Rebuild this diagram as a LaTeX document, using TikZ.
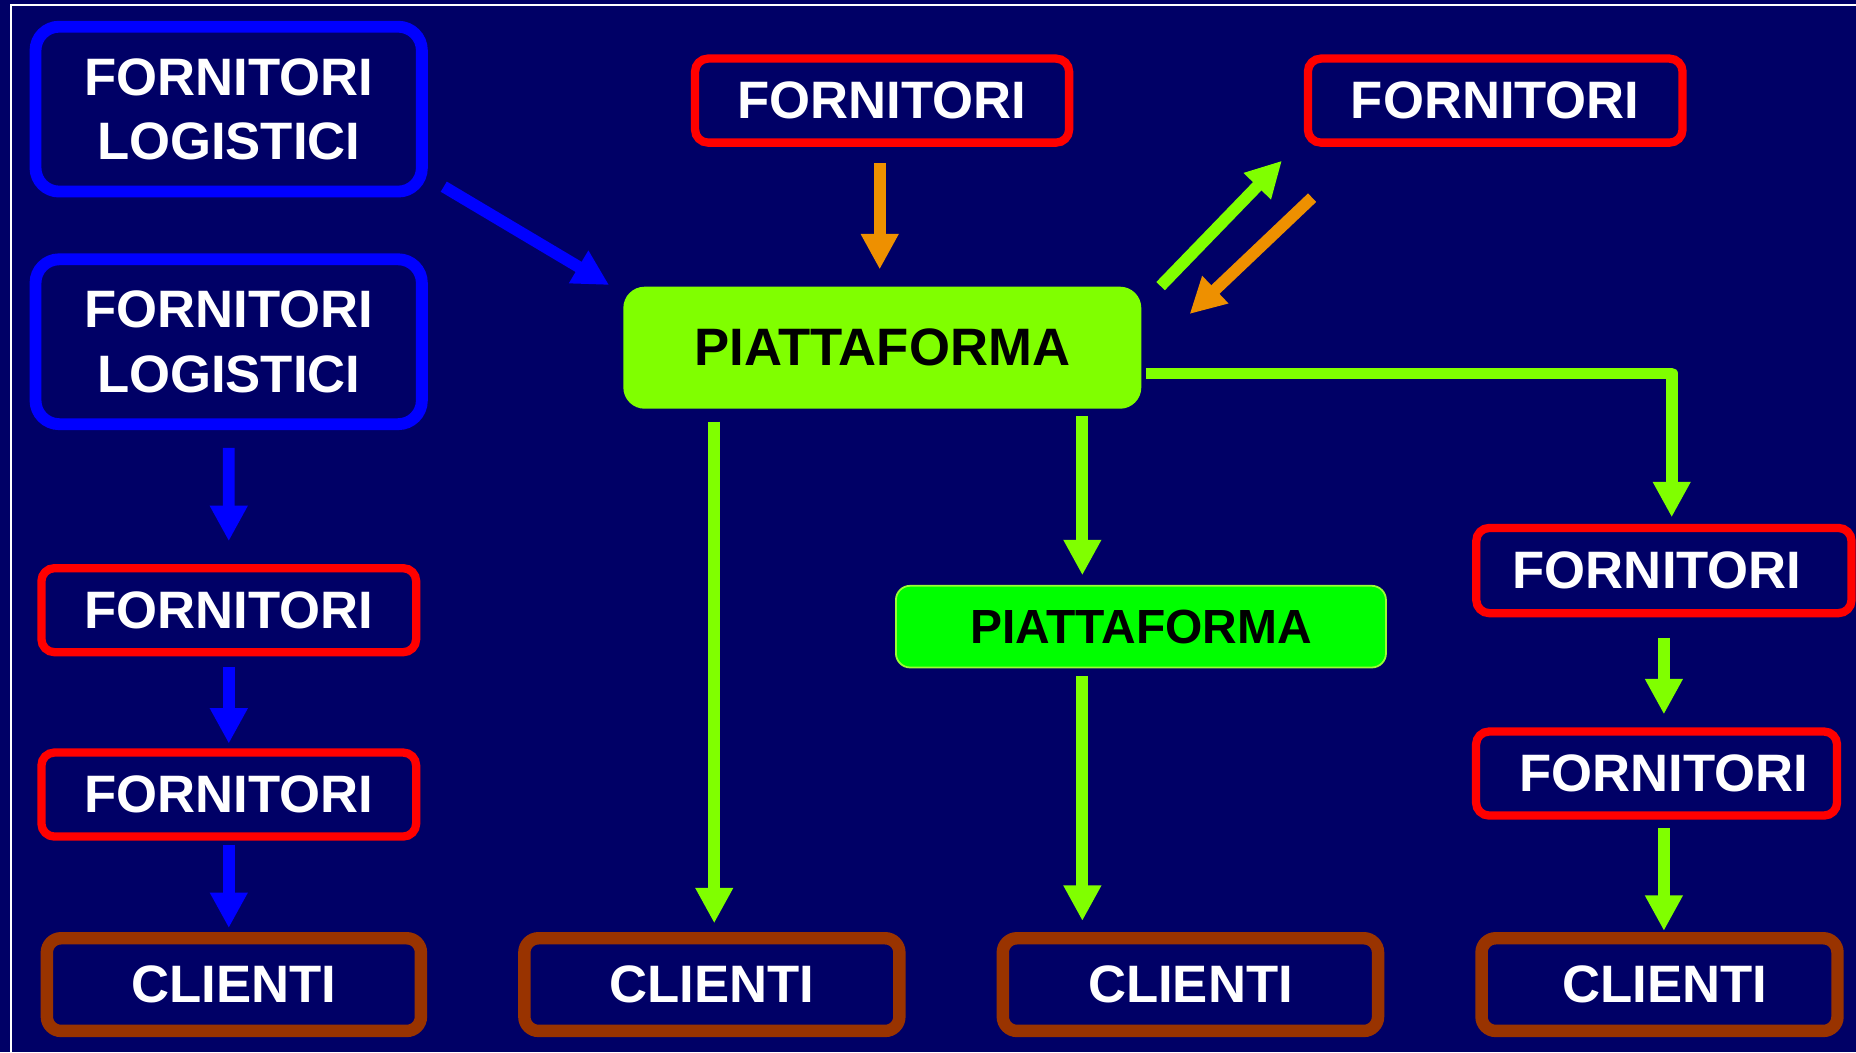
\documentclass[tikz,border=0pt]{standalone}
\usepackage{fontspec}
\setmainfont{Liberation Sans}
\usetikzlibrary{arrows.meta,calc}
\definecolor{bgnavy}{HTML}{000066}
\definecolor{pblue}{HTML}{0000FF}
\definecolor{pred}{HTML}{FF0000}
\definecolor{pbrown}{HTML}{993300}
\definecolor{chart}{HTML}{80FF00}
\definecolor{pgreen}{HTML}{00FF00}
\definecolor{porange}{HTML}{EE9000}
\definecolor{pborder}{HTML}{99FF33}
\begin{document}
\begin{tikzpicture}[x=1pt,y=-1pt,
  box/.style={rectangle, inner sep=0pt, outer sep=0pt, text=white,
    font={\bfseries\fontsize{44.5}{54.3}\selectfont}},
  bluebox/.style={box, align=center, draw=pblue, line width=10pt, rounded corners=20pt,
    minimum width=326.4pt, minimum height=139.3pt},
  redbox/.style={box, draw=pred, line width=7pt, rounded corners=11pt, minimum height=71pt},
  clibox/.style={box, draw=pbrown, line width=10.5pt, rounded corners=12pt, minimum height=78.3pt},
  bigplat/.style={box, text=black, fill=chart, rounded corners=18pt,
    minimum width=437.6pt, minimum height=103.1pt},
  smallplat/.style={box, text=black, fill=pgreen, draw=pborder, line width=1.5pt,
    rounded corners=12pt, minimum width=414pt, minimum height=69pt,
    font={\bfseries\fontsize{40.5}{48}\selectfont}},
  arr/.style={line width=10pt, -{Triangle[length=30pt,width=30pt]}},
  barrow/.style={arr, draw=pblue},
  garrow/.style={arr, draw=chart},
  oarrow/.style={arr, draw=porange}
]
\useasboundingbox (0,0) rectangle (1568,889);
\fill[bgnavy] (0,0) rectangle (1568,889);
\draw[white, line width=1.5pt] (9,889) -- (9,4.2) -- (1568,4.2);

% nodes
\node[bluebox] (FL1) at (193.2,92.2) {FORNITORI\\LOGISTICI};
\node[bluebox] (FL2) at (193.2,288.7) {FORNITORI\\LOGISTICI};
\node[redbox, minimum width=316pt] (Ftm) at (745.2,85) {FORNITORI};
\node[redbox, minimum width=316.5pt] (Ftr) at (1263.2,85) {FORNITORI};
\node[redbox, minimum width=316.6pt] (FA) at (193.3,515.5) {FORNITORI};
\node[redbox, minimum width=316.6pt] (FB) at (193.3,671.25) {FORNITORI};
\node[redbox, minimum width=317pt, minimum height=72pt] (R1) at (1405.7,482) {\hspace*{-11.4pt}FORNITORI};
\node[redbox, minimum width=305pt] (R2) at (1399.5,653.5) {FORNITORI\hspace*{-12pt}};
\node[clibox, minimum width=316pt] (C1) at (197.6,831.8) {CLIENTI};
\node[clibox, minimum width=316.8pt] (C2) at (601.4,831.8) {CLIENTI};
\node[clibox, minimum width=317pt] (C3) at (1005.7,831.8) {CLIENTI};
\node[clibox, minimum width=300.7pt] (C4) at (1402,831.8) {CLIENTI\hspace*{-9pt}};
\node[bigplat] (P) at (745.4,293.75) {PIATTAFORMA};
\node[smallplat] (Ps) at (963.9,529.4) {PIATTAFORMA};

% free-end coordinates
\coordinate (bd1) at (374.9,157.7);
\coordinate (bd2) at (514.6,240.8);
\coordinate (gd1) at (980.5,241.7);
\coordinate (gd2) at (1083,135.8);
\coordinate (od1) at (1108.5,167);
\coordinate (od2) at (1005,265.3);
\coordinate (e1) at ($(P.east)+(3.8,21.75)$);
\coordinate (ecorner) at (1412.3,315.5);

% blue connectors
\draw[barrow, shorten <=20.1pt, shorten >=22.8pt] (FL2.south) -- (FA.north);
\draw[barrow, shorten <=12.4pt, shorten >=7.5pt] (FA.south) -- (FB.north);
\draw[barrow, shorten <=6.85pt, shorten >=8.65pt] (FB.south) -- (FB.south |- C1.north);
\draw[barrow] (bd1) -- (bd2);

% orange connectors
\draw[oarrow, shorten <=17pt, shorten >=14.6pt] ([xshift=-2pt]Ftm.south) -- ([xshift=-2pt]Ftm.south |- P.north);
\draw[oarrow] (od1) -- (od2);

% green connectors
\draw[garrow] (gd1) -- (gd2);
\draw[garrow, shorten <=11pt, shorten >=12.65pt] ([xshift=2pt]C2.north |- P.south) -- ([xshift=2pt]C2.north);
\draw[garrow, shorten <=6.2pt, shorten >=8.9pt] ([xshift=169pt]P.south) -- ([xshift=169pt]P.south |- Ps.north);
\draw[garrow, shorten <=7.3pt, shorten >=14.65pt] ([xshift=-49.5pt]Ps.south) -- ([xshift=-49.5pt]Ps.south |- C3.north);
\draw[garrow, line join=round, shorten >=9pt] (e1) -- (ecorner) -- (ecorner |- R1.north);
\draw[garrow, shorten <=20.8pt, shorten >=14.5pt] (R1.south) -- (R1.south |- R2.north);
\draw[garrow, shorten <=10.6pt, shorten >=6.25pt] (R1.south |- R2.south) -- (R1.south |- C4.north);
\end{tikzpicture}
\end{document}
